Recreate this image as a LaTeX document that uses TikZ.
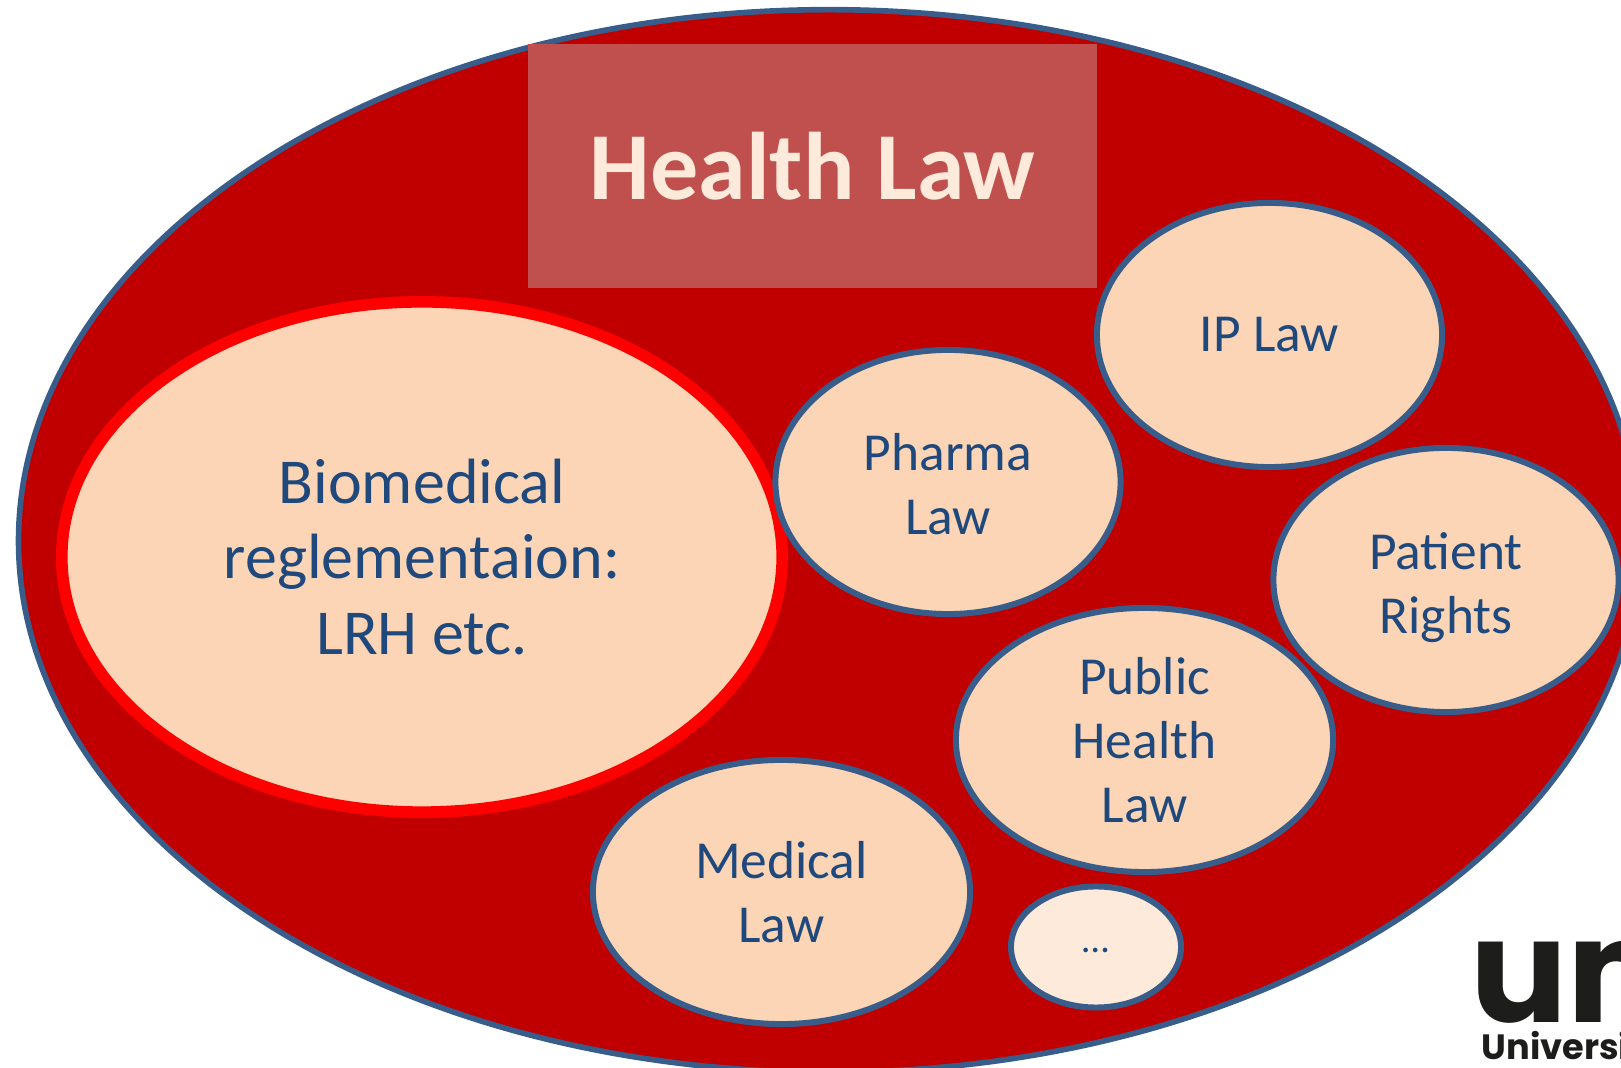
\documentclass[tikz,border=0pt]{standalone}
\usepackage{fontspec}
\setmainfont{Carlito}
\newfontfamily\logofont{Poppins}
\usetikzlibrary{shapes.geometric}
\definecolor{lawred}{HTML}{C00000}
\definecolor{lawblue}{HTML}{385D8A}
\definecolor{lawtext}{HTML}{1F497D}
\definecolor{lawpeach}{HTML}{FBD5B5}
\definecolor{lawpale}{HTML}{FDEADA}
\definecolor{lawtitle}{HTML}{C0504D}
\definecolor{logoblack}{HTML}{1D1D1B}
\tikzset{
    field/.style={ellipse, draw=lawblue, fill=lawpeach, line width=1.7pt, inner sep=0pt, align=center,
        text=lawtext, minimum width=3.45cm, minimum height=2.64cm,
        font=\fontsize{15.2}{18.2}\selectfont},
    widefield/.style={field, minimum width=3.77cm}
}
\begin{document}
\begin{tikzpicture}[x=0.01cm, y=-0.01cm]
    \useasboundingbox (0,0) rectangle (1621,1068);
    % Outer ellipse
    \node[ellipse, draw=lawblue, fill=lawred, line width=1.6pt, inner sep=0pt,
        minimum width=16.2cm, minimum height=10.62cm] (healthlaw) at (829,541) {};
    % Title box
    \node[fill=lawtitle, text=lawpale, inner sep=0pt, minimum width=5.69cm, minimum height=2.43cm,
        font=\fontsize{27.3}{32}\selectfont\bfseries] (title) at (812.5,166) {Health Law};
    % Biggest field
    \node[field, draw=red, line width=3.3pt, minimum width=7.2cm, minimum height=5.1cm,
        font=\fontsize{18.2}{21.5}\selectfont] (biomedical) at (422,557) {Biomedical\\reglementaion:\\LRH etc.};
    % Smaller fields
    \node[field] (ip) at (1269.5,335) {IP Law};
    \node[field, text height=30pt] (pharma) at (948,482) {Pharma\\Law};
    \node[field, text height=33pt] (patient) at (1446,580) {Patient\\Rights};
    \node[widefield] (public) at (1144.5,740) {Public\\Health\\Law};
    \node[widefield] (medical) at (781.5,892) {Medical\\Law};
    \node[field, fill=lawpale, minimum width=1.7cm, minimum height=1.21cm, text height=3pt, text depth=0pt,
        font=\fontsize{11}{13}\selectfont] (more) at (1096,947) {…};
    % Logo, cut by the page edge
    \node[anchor=base west, inner sep=0pt, text=logoblack,
        font=\fontsize{41}{41}\logofont\bfseries\selectfont] (logo) at (1470,1023) {un};
    \node[anchor=base west, inner sep=0pt, text=logoblack,
        font=\fontsize{10}{10}\logofont\bfseries\selectfont] (logotext) at (1481,1060) {University};
\end{tikzpicture}
\end{document}
